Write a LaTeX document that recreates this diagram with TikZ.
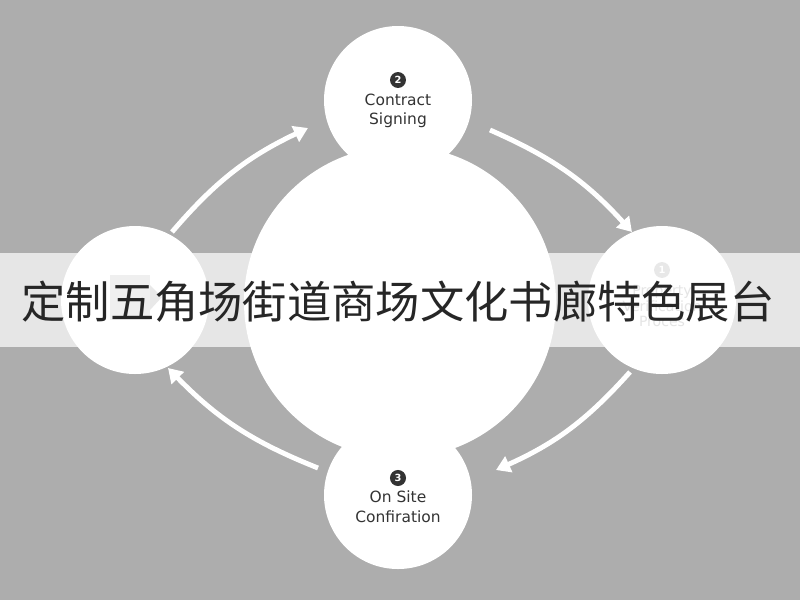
\documentclass[tikz,border=0pt]{standalone}
\usepackage{fontspec}
\newfontfamily\cjk{Noto Sans CJK SC}
\setsansfont{DejaVu Sans}
\usetikzlibrary{arrows.meta}
\begin{document}
\begin{tikzpicture}[x=0.025cm,y=-0.025cm,
  stage/.style={shape=circle,fill=white,minimum size=148*0.025cm,inner sep=0pt},
  caption/.style={align=center,font=\sffamily\fontsize{11}{14}\selectfont,text=black!80},
  badge/.style={shape=circle,fill=black!80,text=white,font=\sffamily\scriptsize\bfseries,inner sep=1.5pt},
  flow/.style={white,line width=3.5pt,-{Triangle[width=12pt,length=10pt]}}]
    % background
    \fill[black!32] (0,0) rectangle (800,600);
    \useasboundingbox (0,0) rectangle (800,600);

    % circles
    \node[shape=circle,fill=white,minimum size=312*0.025cm] (hub) at (400,302) {};
    \node[stage] (s2) at (398,100) {};
    \node[badge] (b2) at (398,80) {2};
    \node[caption] (c2) at (398,111) {Contract\\Signing};
    \node[stage] (s1) at (662,300) {};
    \node[badge,fill=black!30] (b1) at (662,270) {1};
    \node[caption,text=black!35,font=\sffamily\fontsize{10}{11}\selectfont] (c1) at (662,306) {Property\\Verification\\Proces};
    \node[stage] (s3) at (398,495) {};
    \node[badge] (b3) at (398,478) {3};
    \node[caption] (c3) at (398,507) {On Site\\Confiration};
    \node[stage] (s4) at (135,300) {};
    \fill[black!20] (110,275) rectangle (150,320);
    \fill[black!30] (150,285) -- (162,297) -- (150,310) -- cycle;

    % arrows
    \coordinate (a1) at (172,232); \coordinate (a2) at (308,128);
    \coordinate (a3) at (490,130); \coordinate (a4) at (632,232);
    \coordinate (a5) at (630,372); \coordinate (a6) at (496,470);
    \coordinate (a7) at (318,468); \coordinate (a8) at (168,368);
    \draw[flow] (a1) to[bend left=12] (a2);
    \draw[flow] (a3) to[bend left=12] (a4);
    \draw[flow] (a5) to[bend left=12] (a6);
    \draw[flow] (a7) to[bend left=12] (a8);

    % banner
    \fill[white,opacity=0.7] (0,253) rectangle (800,347);
    \node[font=\cjk\fontsize{31.5}{34}\selectfont,text=black!85] (title) at (398,302) {定制五角场街道商场文化书廊特色展台};
\end{tikzpicture}
\end{document}
